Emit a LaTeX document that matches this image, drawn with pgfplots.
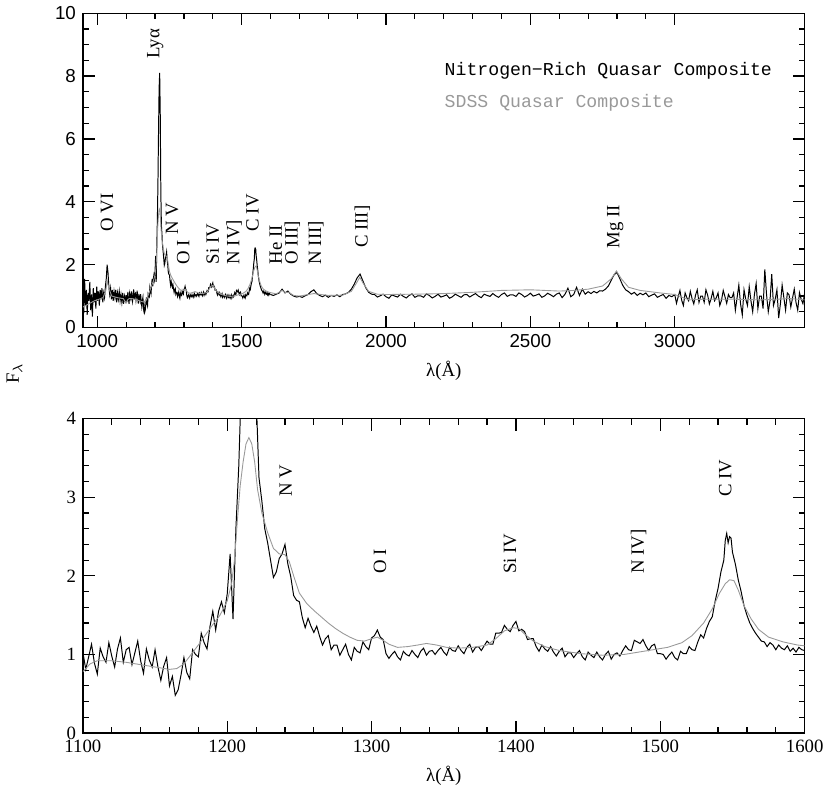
\documentclass[border=0pt]{standalone}
\usepackage{fontspec}
\setmainfont{Liberation Serif}
\setsansfont{Liberation Sans}
\setmonofont{Liberation Mono}
\usepackage{pgfplots}
\pgfplotsset{compat=1.18}

% nitrogen-rich composite, split in three pieces
\pgfplotstableread{
x y
950 0.95
953 0.45
956 1.55
959 0.70
962 1.20
965 0.40
968 1.10
971 0.85
974 1.45
977 0.55
980 1.05
983 0.35
986 1.25
989 0.80
992 1.10
995 0.60
998 1.30
1001 0.85
1004 1.15
1007 0.70
1010 1.20
1013 0.90
1016 1.25
1019 0.80
1022 1.10
1025 0.95
1028 1.30
1031 1.55
1034 2.00
1037 1.75
1040 1.30
1043 1.05
1046 1.25
1049 0.90
1052 1.20
1055 0.85
1058 1.15
1061 0.95
1064 1.20
1067 0.80
1070 1.10
1073 0.90
1076 1.15
1079 0.85
1082 1.05
1085 0.80
1088 1.10
1091 0.75
1094 1.00
1097 0.85
1100 1.03
}\blacka

\pgfplotstableread{
x y
1100 1.03
1102 0.81
1104 0.97
1106 1.13
1108 0.89
1110 0.75
1112 1.08
1114 0.97
1116 0.90
1118 1.15
1120 0.98
1122 0.84
1124 1.07
1126 1.21
1128 0.90
1130 1.06
1132 1.09
1134 0.87
1136 1.02
1138 1.17
1140 0.92
1142 0.76
1144 1.07
1146 0.93
1148 0.84
1150 1.06
1152 0.84
1154 0.67
1156 0.85
1158 0.96
1160 0.60
1162 0.72
1164 0.48
1166 0.55
1168 0.74
1170 0.96
1172 0.77
1174 0.69
1176 1.06
1178 1.00
1180 0.97
1182 1.27
1184 1.15
1186 1.07
1188 1.35
1190 1.55
1192 1.31
1194 1.55
1196 1.67
1198 1.53
1200 1.77
1202 2.28
1204 1.45
1206 2.60
1208 3.40
1210 4.60
1212 6.20
1214 7.60
1216 8.10
1218 6.80
1220 4.30
1222 3.25
1224 2.95
1226 2.60
1228 2.42
1230 2.20
1232 1.98
1234 2.05
1236 2.22
1238 2.28
1240 2.40
1242 2.15
1244 1.99
1246 1.75
1248 1.69
1250 1.67
1252 1.47
1254 1.34
1256 1.46
1258 1.36
1260 1.28
1262 1.36
1264 1.23
1266 1.12
1268 1.20
1270 1.24
1272 1.06
1274 1.12
1276 1.12
1278 0.99
1280 1.06
1282 1.13
1284 1.00
1286 0.93
1288 1.09
1290 1.04
1292 1.02
1294 1.16
1296 1.10
1298 1.06
1300 1.21
1302 1.24
1304 1.31
1306 1.22
1308 1.19
1310 1.01
1312 0.95
1314 1.00
1316 1.04
1318 0.97
1320 0.93
1322 1.04
1324 1.00
1326 0.98
1328 1.05
1330 1.00
1332 0.96
1334 1.04
1336 1.08
1338 0.99
1340 1.04
1342 1.05
1344 1.00
1346 1.05
1348 1.09
1350 1.03
1352 0.99
1354 1.09
1356 1.05
1358 1.04
1360 1.11
1362 1.05
1364 1.01
1366 1.09
1368 1.13
1370 1.03
1372 1.09
1374 1.10
1376 1.05
1378 1.11
1380 1.17
1382 1.13
1384 1.13
1386 1.27
1388 1.27
1390 1.28
1392 1.37
1394 1.32
1396 1.29
1398 1.37
1400 1.42
1402 1.30
1404 1.32
1406 1.29
1408 1.19
1410 1.20
1412 1.20
1414 1.10
1416 1.04
1418 1.12
1420 1.07
1422 1.04
1424 1.10
1426 1.03
1428 0.98
1430 1.04
1432 1.08
1434 0.97
1436 1.02
1438 1.02
1440 0.96
1442 1.01
1444 1.05
1446 0.97
1448 0.93
1450 1.03
1452 0.99
1454 0.96
1456 1.03
1458 0.97
1460 0.93
1462 1.00
1464 1.04
1466 0.94
1468 1.00
1470 1.02
1472 0.98
1474 1.05
1476 1.11
1478 1.06
1480 1.05
1482 1.18
1484 1.16
1486 1.14
1488 1.19
1490 1.11
1492 1.05
1494 1.11
1496 1.13
1498 1.01
1500 1.01
1502 1.00
1504 0.94
1506 0.99
1508 1.03
1510 0.96
1512 0.93
1514 1.04
1516 1.01
1518 1.01
1520 1.10
1522 1.06
1524 1.05
1526 1.16
1528 1.25
1530 1.21
1532 1.33
1534 1.42
1536 1.48
1538 1.68
1540 1.84
1542 2.05
1544 2.20
1545 2.45
1546 2.54
1547 2.42
1548 2.50
1549 2.48
1550 2.30
1552 2.15
1554 1.95
1556 1.80
1558 1.62
1560 1.50
1562 1.40
1564 1.33
1566 1.27
1568 1.22
1570 1.17
1572 1.16
1574 1.10
1576 1.15
1578 1.12
1580 1.06
1582 1.12
1584 1.08
1586 1.06
1588 1.11
1590 1.04
1592 1.08
1594 1.03
1596 1.09
1598 1.06
1600 1.05
}\blackb

\pgfplotstableread{
x y
1600 1.05
1610 1.02
1620 1.06
1630 1.10
1640 1.22
1650 1.10
1660 1.16
1670 1.06
1680 1.00
1690 0.97
1700 0.99
1710 0.96
1720 1.01
1730 1.05
1740 1.14
1750 1.20
1760 1.08
1770 1.02
1780 0.98
1790 1.03
1800 0.96
1810 1.02
1820 0.99
1830 1.04
1840 0.98
1850 1.05
1860 1.07
1870 1.12
1880 1.22
1890 1.38
1900 1.58
1910 1.70
1920 1.48
1930 1.26
1940 1.12
1950 1.06
1960 1.05
1970 0.97
1980 1.01
1990 1.06
2000 0.98
2010 0.93
2020 1.04
2030 1.00
2040 0.97
2050 1.06
2060 0.99
2070 0.94
2080 1.02
2090 1.07
2100 0.96
2110 1.01
2120 1.01
2130 0.96
2140 1.07
2150 1.02
2160 0.94
2170 0.99
2180 1.06
2190 0.97
2200 1.00
2210 1.04
2220 0.93
2230 0.98
2240 1.06
2250 1.01
2260 0.96
2270 1.04
2280 1.05
2290 0.97
2300 1.03
2310 1.08
2320 1.00
2330 0.95
2340 1.06
2350 1.02
2360 0.99
2370 1.08
2380 1.01
2390 0.96
2400 1.05
2410 1.10
2420 0.99
2430 1.04
2440 1.04
2450 0.99
2460 1.10
2470 1.05
2480 0.97
2490 1.02
2500 1.09
2510 1.00
2520 1.03
2530 1.07
2540 0.96
2550 1.01
2560 1.09
2570 1.04
2580 0.98
2590 1.06
2600 1.10
2610 0.95
2620 1.06
2630 1.25
2640 0.98
2650 1.05
2660 1.28
2670 1.02
2680 1.22
2690 1.06
2700 1.14
2710 1.08
2720 1.15
2730 1.10
2740 1.17
2750 1.16
2760 1.22
2770 1.32
2780 1.50
2790 1.68
2800 1.75
2810 1.55
2820 1.34
2830 1.20
2840 1.14
2850 1.06
2860 1.12
2870 1.02
2880 1.09
2890 1.04
2900 1.10
2910 0.98
2920 1.03
2930 1.07
2940 0.96
2950 1.01
2960 1.05
2970 0.93
2980 1.02
2990 0.98
3000 1.05
3006 0.77
3012 0.98
3018 1.18
3024 0.87
3030 0.70
3036 1.10
3042 0.95
3048 0.85
3054 1.15
3060 0.92
3066 0.75
3072 1.03
3078 1.20
3084 0.80
3090 1.00
3096 1.00
3102 0.80
3108 1.20
3114 1.03
3120 0.75
3126 0.92
3132 1.15
3138 0.85
3144 0.95
3150 1.10
3156 0.70
3162 0.87
3168 1.18
3174 0.98
3180 0.77
3186 1.05
3192 0.95
3198 0.95
3204 1.10
3210 0.55
3216 0.95
3222 1.35
3228 0.75
3234 0.40
3240 1.20
3246 0.90
3252 0.70
3258 1.30
3264 0.85
3270 0.50
3276 1.05
3282 1.40
3288 0.60
3294 1.00
3300 1.00
3306 0.60
3312 1.85
3318 1.05
3324 0.50
3330 0.85
3336 1.70
3342 0.70
3348 0.90
3354 1.20
3360 0.30
3366 0.75
3372 1.35
3378 0.95
3384 0.55
3390 1.10
3396 1.04
3402 0.65
3408 0.94
3414 1.22
3420 0.80
3426 0.55
3432 1.11
3438 0.90
3444 0.76
3450 1.10
}\blackc

% SDSS composite (smooth)
\pgfplotstableread{
x y
950 0.65
970 0.75
990 0.85
1000 0.88
1020 0.95
1030 1.20
1034 1.50
1040 1.25
1050 1.00
1070 0.95
1090 0.92
1100 0.78
1105 0.88
1110 0.92
1120 0.92
1130 0.90
1140 0.87
1150 0.84
1160 0.81
1165 0.82
1170 0.88
1175 1.00
1180 1.12
1185 1.25
1190 1.38
1195 1.50
1200 1.68
1203 1.90
1205 2.20
1207 2.70
1209 3.15
1211 3.45
1213 3.68
1215 3.76
1217 3.68
1219 3.45
1221 3.10
1224 2.80
1228 2.55
1232 2.35
1236 2.28
1240 2.27
1243 2.18
1246 2.00
1250 1.78
1255 1.65
1260 1.56
1265 1.48
1270 1.40
1275 1.33
1280 1.27
1285 1.22
1290 1.18
1295 1.17
1300 1.20
1304 1.22
1308 1.18
1312 1.13
1318 1.09
1325 1.10
1332 1.12
1338 1.14
1345 1.12
1352 1.09
1360 1.08
1370 1.09
1380 1.12
1386 1.20
1392 1.30
1398 1.34
1402 1.33
1406 1.26
1412 1.17
1420 1.10
1430 1.05
1445 1.01
1460 0.99
1475 1.00
1485 1.03
1495 1.06
1505 1.09
1515 1.15
1522 1.24
1530 1.40
1536 1.58
1541 1.78
1545 1.90
1548 1.95
1551 1.94
1554 1.82
1558 1.62
1563 1.45
1568 1.32
1575 1.22
1585 1.16
1595 1.12
1600 1.11
1620 1.07
1640 1.18
1650 1.12
1663 1.12
1680 1.02
1700 1.00
1750 1.08
1800 1.02
1850 1.03
1880 1.15
1900 1.45
1909 1.60
1920 1.42
1940 1.15
1970 1.06
2000 1.05
2100 1.06
2200 1.08
2300 1.12
2400 1.18
2500 1.20
2600 1.16
2650 1.18
2700 1.22
2750 1.32
2780 1.55
2798 1.80
2815 1.55
2840 1.28
2880 1.18
2950 1.10
3000 1.05
3050 0.88
3100 0.90
3200 0.90
3300 0.88
3400 0.92
3450 0.88
}\sdss

\newcommand\tickfont{\fontsize{9.5}{11}\selectfont}
\newcommand\lbl[3]{\node[rotate=90, anchor=west, inner sep=0pt, font=\tickfont] at (axis cs:#1,#2) {#3};}

\pgfplotsset{
  specax/.style={
    scale only axis, width=364bp, height=158.5bp,
    axis line style={line width=0.7pt},
    every tick/.style={black, line width=0.6pt},
    major tick length=6bp, minor tick length=3bp,
    tick align=inside, xtick pos=both, ytick pos=both,
    xticklabel pos=lower, yticklabel pos=left,
    /pgf/number format/assume math mode=true,
    /pgf/number format/1000 sep={},
    xlabel={λ(Å)}, xlabel style={font=\tickfont},
  },
  blk/.style={black, line width=0.5pt},
  gry/.style={black!40, line width=0.45pt},
}

\begin{document}
\begin{tikzpicture}
\begin{axis}[specax, name=top,
    xmin=950, xmax=3450, ymin=0, ymax=10,
    xtick={1000,1500,2000,2500,3000}, minor x tick num=4,
    ytick={0,2,4,6,8,10}, minor y tick num=3,
    tick label style={font=\sffamily\tickfont},
]
\addplot[blk] table[x=x, y=y] {\blacka};
\addplot[blk] table[x=x, y=y] {\blackb};
\addplot[blk] table[x=x, y=y] {\blackc};
\addplot[gry] table[x=x, y=y] {\sdss};
\lbl{1034}{3.05}{O VI}
\lbl{1201}{8.54}{Lyα}
\lbl{1259}{2.94}{N V}
\lbl{1298}{2.0}{O I}
\lbl{1400}{2.0}{Si IV}
\lbl{1474}{2.0}{N IV]}
\lbl{1538}{3.05}{C IV}
\lbl{1618}{2.0}{He II}
\lbl{1676}{2.0}{O III]}
\lbl{1757}{2.0}{N III]}
\lbl{1918}{2.52}{C III]}
\lbl{2794}{2.5}{Mg II}
\node[anchor=west, inner sep=0pt, font=\ttfamily\fontsize{9.2}{11}\selectfont] at (axis cs:2202,8.17) {Nitrogen−Rich Quasar Composite};
\node[anchor=west, inner sep=0pt, text=black!40, font=\ttfamily\fontsize{9.2}{11}\selectfont] at (axis cs:2202,7.16) {SDSS Quasar Composite};
\end{axis}

\begin{axis}[specax, at={(0,-46bp)}, anchor=north west,
    xmin=1100, xmax=1600, ymin=0, ymax=4,
    xtick={1100,1200,...,1600}, minor x tick num=4,
    ytick={0,1,2,3,4}, minor y tick num=4,
    tick label style={font=\tickfont},
]
\addplot[blk] table[x=x, y=y] {\blackb};
\addplot[gry] table[x=x, y=y] {\sdss};
\lbl{1240.6}{3.0}{N V}
\lbl{1305.8}{2.02}{O I}
\lbl{1396}{2.02}{Si IV}
\lbl{1485}{2.02}{N IV]}
\lbl{1545}{3.0}{C IV}
\end{axis}

\node[rotate=90, font=\tickfont] at (-34.5bp,-23bp) {F$_{\lambda}$};
\end{tikzpicture}
\end{document}
